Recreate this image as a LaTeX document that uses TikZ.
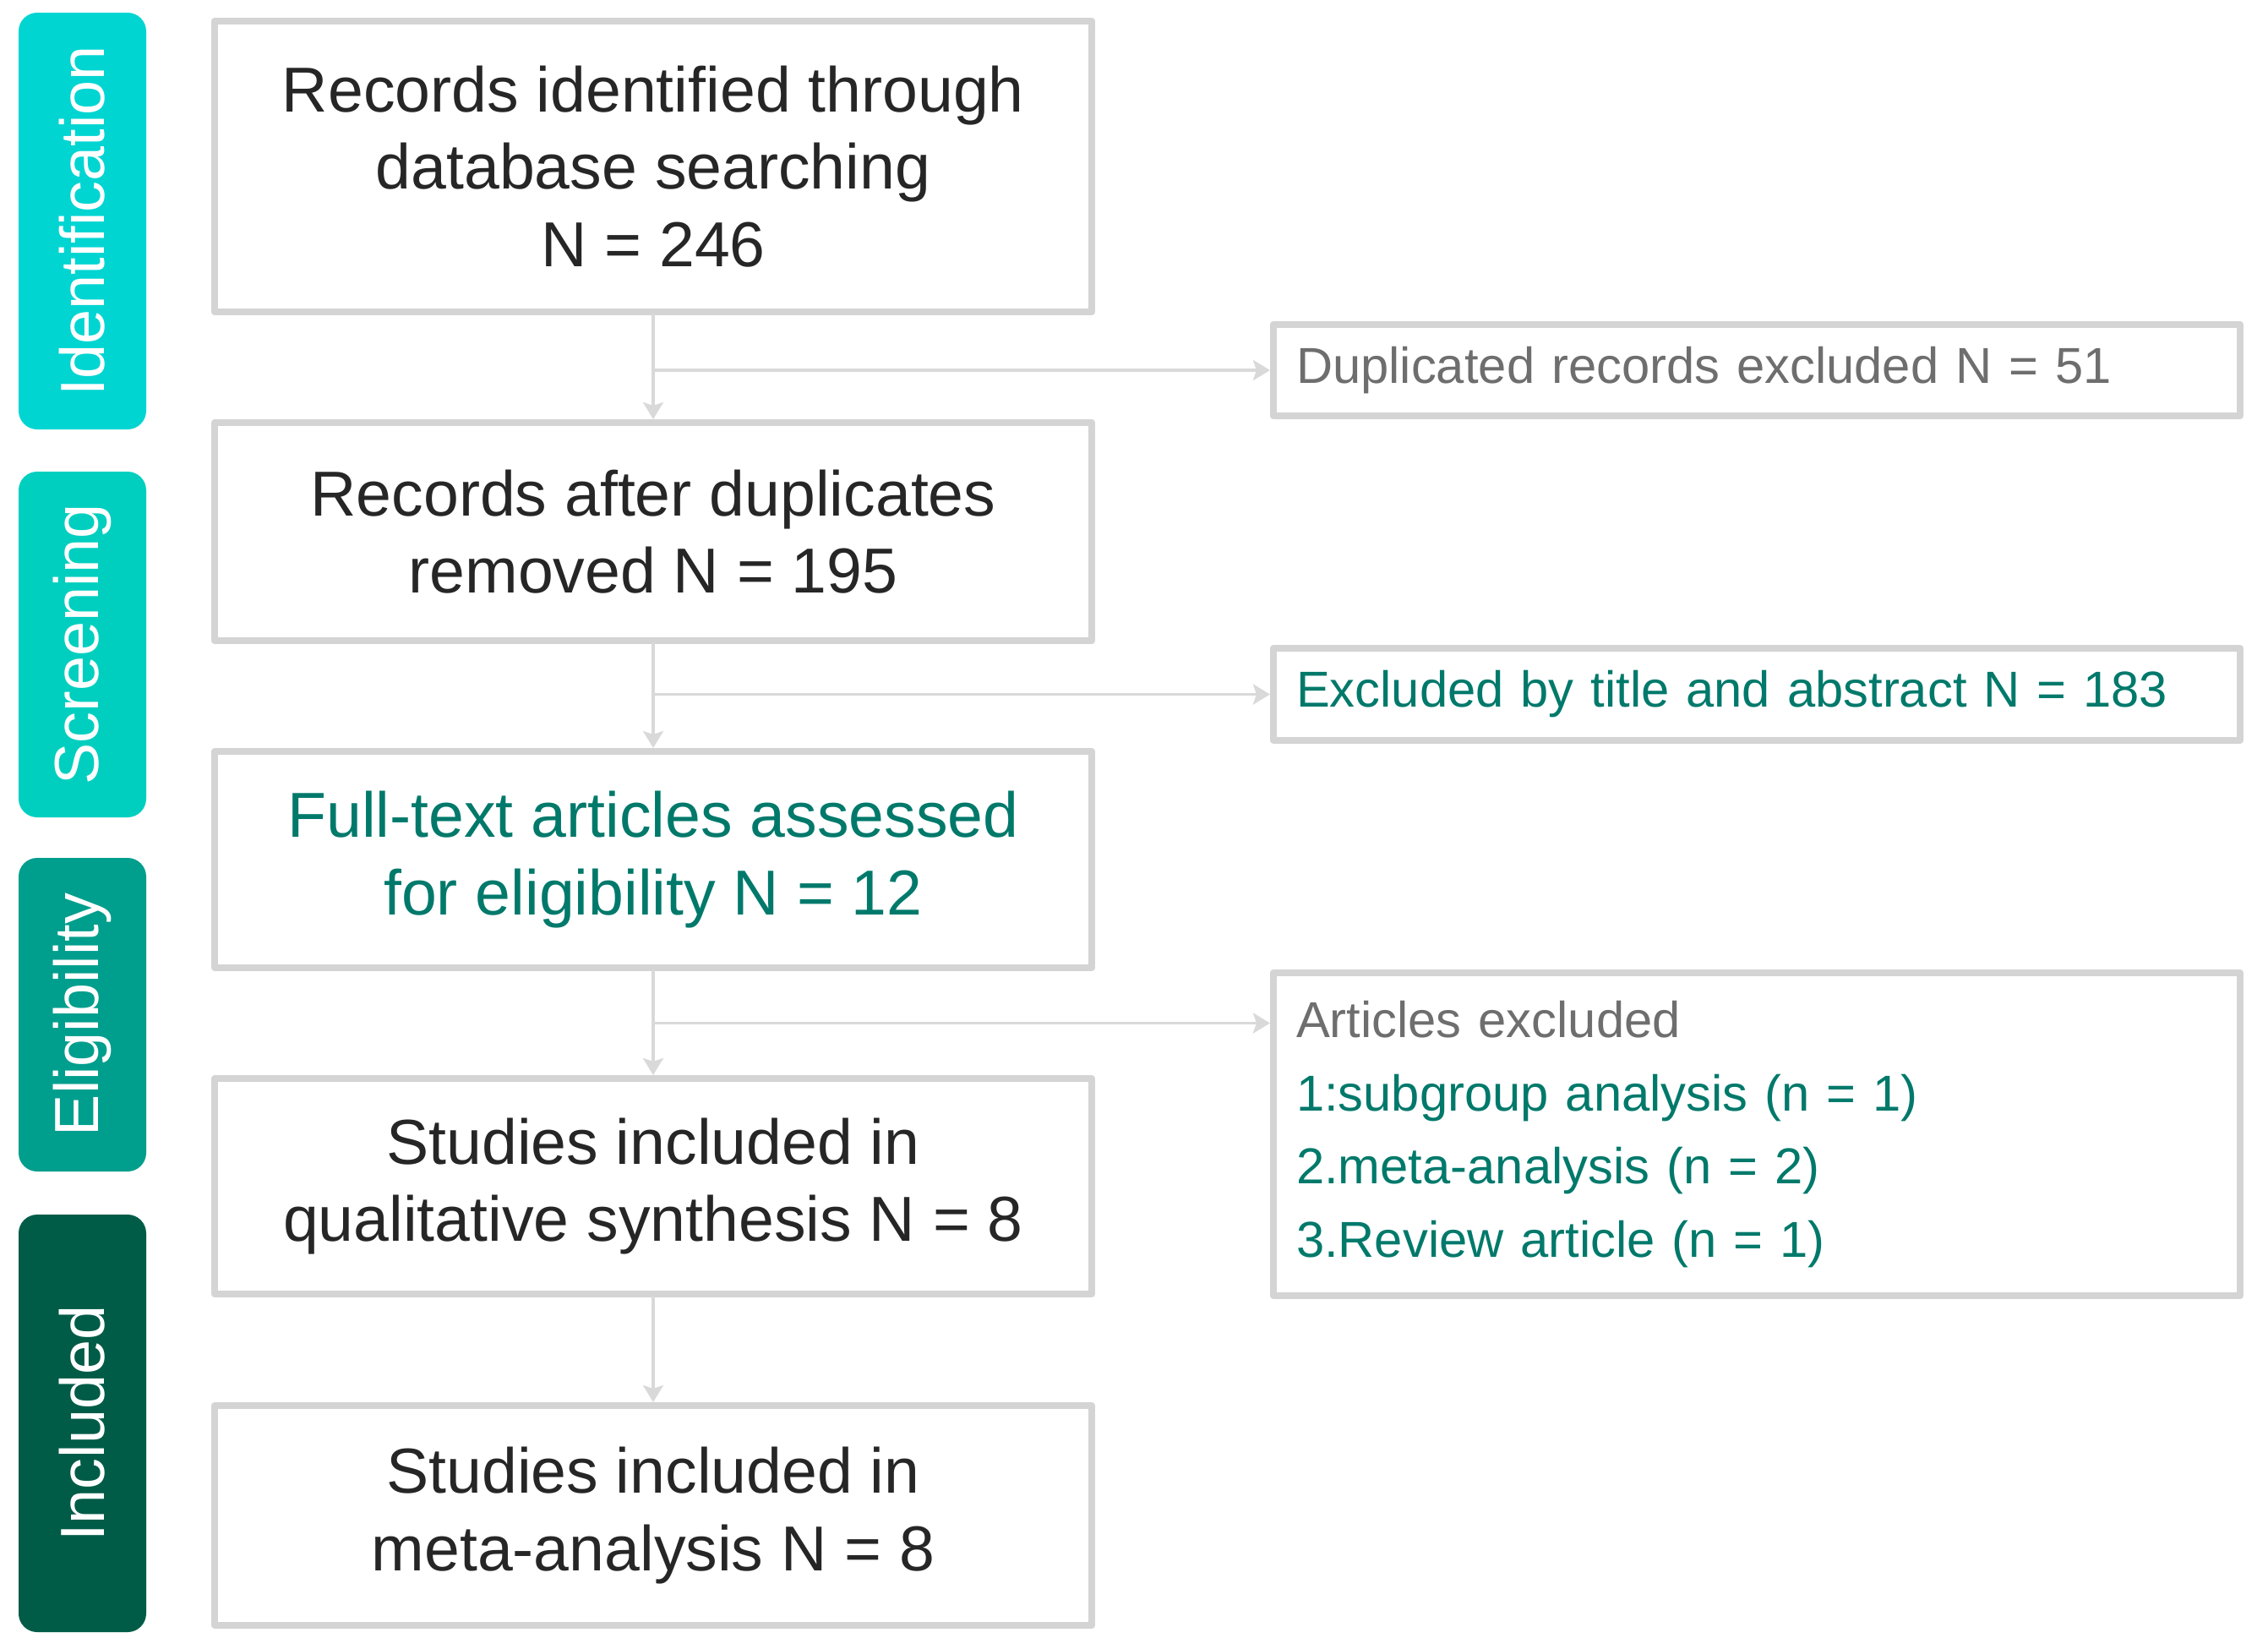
\documentclass[tikz,border=0pt]{standalone}
\usepackage{fontspec}
\setmainfont{Liberation Sans}
\usetikzlibrary{arrows.meta}
\definecolor{tabA}{HTML}{00D5D2}
\definecolor{tabB}{HTML}{00CFBF}
\definecolor{tabC}{HTML}{009E8D}
\definecolor{tabD}{HTML}{005C47}
\definecolor{boxgray}{HTML}{D4D4D4}
\definecolor{arrgray}{HTML}{D9D9D9}
\definecolor{txtteal}{HTML}{00796B}
\definecolor{txtgray}{HTML}{6E6E6E}
\definecolor{txtdark}{HTML}{262626}
\begin{document}
\begin{tikzpicture}[line join=round, line cap=round, >={Stealth[length=0.2cm,width=0.24cm,inset=0.04cm]},
	mainbox/.style={draw=boxgray, line width=2.3pt, minimum width=10.38cm, align=center, text=txtdark, font=\fontsize{21.4}{26}\selectfont},
	sidebox/.style={draw=boxgray, line width=2.3pt, minimum width=11.44cm, inner xsep=0.27cm, text width=10.9cm, align=left, font=\fontsize{17}{24.7}\selectfont},
	tab/.style={rounded corners=0.22cm, minimum height=1.51cm, rotate=90, text=white, font=\fontsize{21}{26}\selectfont},
	arr/.style={draw=arrgray, line width=1.1pt, ->}]
	\useasboundingbox (0,0) rectangle (26.84,-19.50);
	% phase tabs
	\foreach \n/\yc/\h/\c/\t in {tid/2.615/4.93cm/tabA/Identification, tscr/7.625/4.09cm/tabB/Screening, telig/12.005/3.71cm/tabC/Eligibility, tincl/16.84/4.94cm/tabD/Included}{
		\node[tab, fill=\c, minimum width=\h] (\n) at (0.975,-\yc) {\t};}
	% main column
	\node[mainbox, minimum height=3.44cm] (b1) at (7.73,-1.97) {Records identified through\\database searching\\N = 246};
	\node[mainbox, minimum height=2.58cm] (b2) at (7.73,-6.29) {Records after duplicates\\removed N = 195};
	\node[mainbox, minimum height=2.56cm, text=txtteal] (b3) at (7.73,-10.17) {Full-text articles assessed\\for eligibility N = 12};
	\node[mainbox, minimum height=2.55cm] (b4) at (7.73,-14.035) {Studies included in\\qualitative synthesis N = 8};
	\node[mainbox, minimum height=2.60cm] (b5) at (7.73,-17.93) {Studies included in\\meta-analysis N = 8};
	% exclusions
	\node[sidebox, minimum height=1.08cm, text=txtgray] (dup) at (20.79,-4.38) {Duplicated records excluded N = 51};
	\node[sidebox, minimum height=1.09cm, text=txtteal] (ex) at (20.79,-8.215) {Excluded by title and abstract N = 183};
	\node[sidebox, minimum height=3.82cm, text=txtteal] (art) at (20.79,-13.42) {\textcolor{txtgray}{Articles excluded}\\1:subgroup analysis (n = 1)\\2.meta-analysis (n = 2)\\3.Review article (n = 1)};
	% connectors
	\foreach \a/\b in {b1/b2,b2/b3,b3/b4,b4/b5}{\draw[arr] (\a.south) -- (\b.north);}
	\draw[arr] (b1.south |- dup.west) -- (dup.west);
	\draw[arr] (b2.south |- ex.west) -- (ex.west);
	\path (b3.south) -- (b4.north) coordinate[pos=0.5] (jelig);
	\draw[arr] (jelig) -- (jelig -| art.west);
\end{tikzpicture}
\end{document}
